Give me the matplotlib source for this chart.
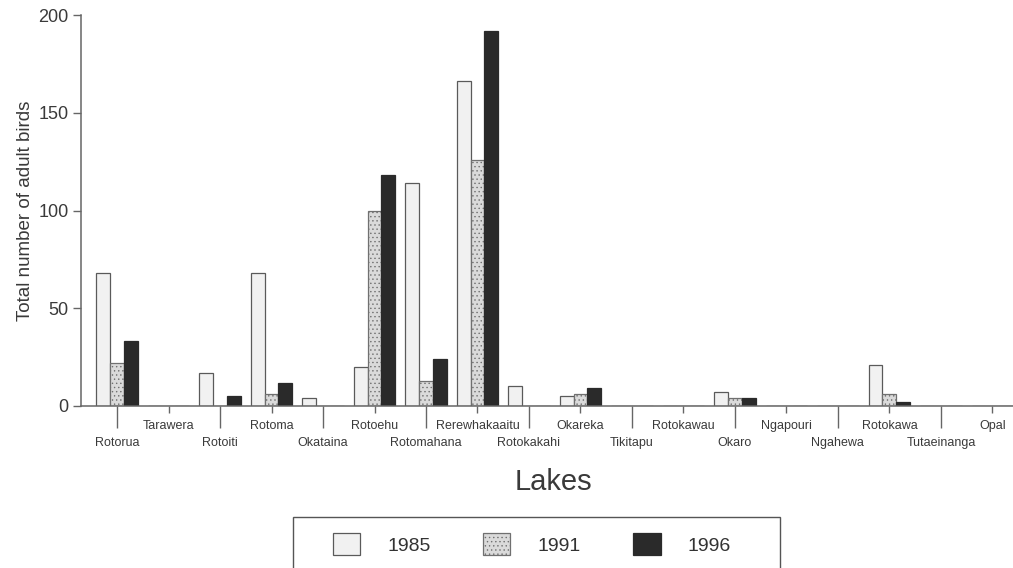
import numpy as np
import matplotlib
matplotlib.use("Agg")
import matplotlib.pyplot as plt
import matplotlib.patches as mpatches

# ---------------------------------------------------------------
# Data: adult bird counts per lake in three survey years
# ---------------------------------------------------------------
lakes = ["Rotorua", "Tarawera", "Rotoiti", "Rotoma", "Okataina", "Rotoehu",
         "Rotomahana", "Rerewhakaaitu", "Rotokakahi", "Okareka", "Tikitapu",
         "Rotokawau", "Okaro", "Ngapouri", "Ngahewa", "Rotokawa",
         "Tutaeinanga", "Opal"]
years = ["1985", "1991", "1996"]
counts_1985 = [68, 0, 17, 68, 4, 20, 114, 166, 10, 5, 0, 0, 7, 0, 0, 21, 0, 0]
counts_1991 = [22, 0, 0, 6, 0, 100, 13, 126, 0, 6, 0, 0, 4, 0, 0, 6, 0, 0]
counts_1996 = [33, 0, 5, 12, 0, 118, 24, 192, 0, 9, 0, 0, 4, 0, 0, 2, 0, 0]

plt.rcParams["font.family"] = ["Liberation Sans", "DejaVu Sans"]
plt.rcParams["hatch.linewidth"] = 0.5

W, H = 1013, 568
fig = plt.figure(figsize=(W / 100, H / 100), dpi=100)
ax = fig.add_axes([81 / W, 1 - 406 / H, (W - 81) / W, 391 / H])

x = np.arange(len(lakes))
bw = 0.27
styles = [
    dict(facecolor="#f1f1f1", edgecolor="#5a5a5a", hatch=None),
    dict(facecolor="#dadada", edgecolor="#707070", hatch="...."),
    dict(facecolor="#2a2a2a", edgecolor="#2a2a2a", hatch=None),
]
series = [counts_1985, counts_1991, counts_1996]
handles = []
for i, (vals, st) in enumerate(zip(series, styles)):
    b = ax.bar(x + (i - 1) * bw, vals, bw, linewidth=0.9, label=years[i], **st)
    handles.append(b)

ax.set_xlim(-0.7, 17.4)
ax.set_ylim(0, 200)
ax.set_yticks([0, 50, 100, 150, 200])

# spines
for s in ["top", "right"]:
    ax.spines[s].set_visible(False)
for s in ["left", "bottom"]:
    ax.spines[s].set_color("#666666")
    ax.spines[s].set_linewidth(1.1)

ax.tick_params(axis="y", length=6, width=1.0, color="#666666",
               labelsize=13, labelcolor="#3a3a3a", pad=3)

# alternating long (lower row) and short (upper row) category ticks
ax.set_xticks(x[::2])
ax.set_xticklabels(lakes[::2])
ax.set_xticks(x[1::2], minor=True)
ax.set_xticklabels(lakes[1::2], minor=True)
ax.tick_params(axis="x", which="major", length=16, width=1.0, color="#666666",
               labelsize=9, labelcolor="#3a3a3a", pad=6)
ax.tick_params(axis="x", which="minor", length=5, width=1.0, color="#666666",
               labelsize=9, labelcolor="#3a3a3a", pad=5)

ax.set_ylabel("Total number of adult birds", fontsize=13.5, color="#3a3a3a", labelpad=3)
fig.text(553 / W, 1 - 482 / H, "Lakes", fontsize=21, color="#3a3a3a",
         ha="center", va="center")

# legend with a wide rectangular frame
leg = fig.legend(handles=handles, labels=years, loc="center",
                 bbox_to_anchor=(532 / W, 1 - 544 / H), ncol=3, frameon=False,
                 fontsize=14, handlelength=1.4, handleheight=1.3,
                 handletextpad=1.4, columnspacing=2.7)
for t in leg.get_texts():
    t.set_color("#333333")
fig.add_artist(mpatches.Rectangle((293 / W, 1 - 570 / H), 487 / W, 53 / H,
                                  transform=fig.transFigure, fill=False,
                                  edgecolor="#555555", linewidth=1.0))

fig.savefig("out.png", dpi=100, facecolor="white")
